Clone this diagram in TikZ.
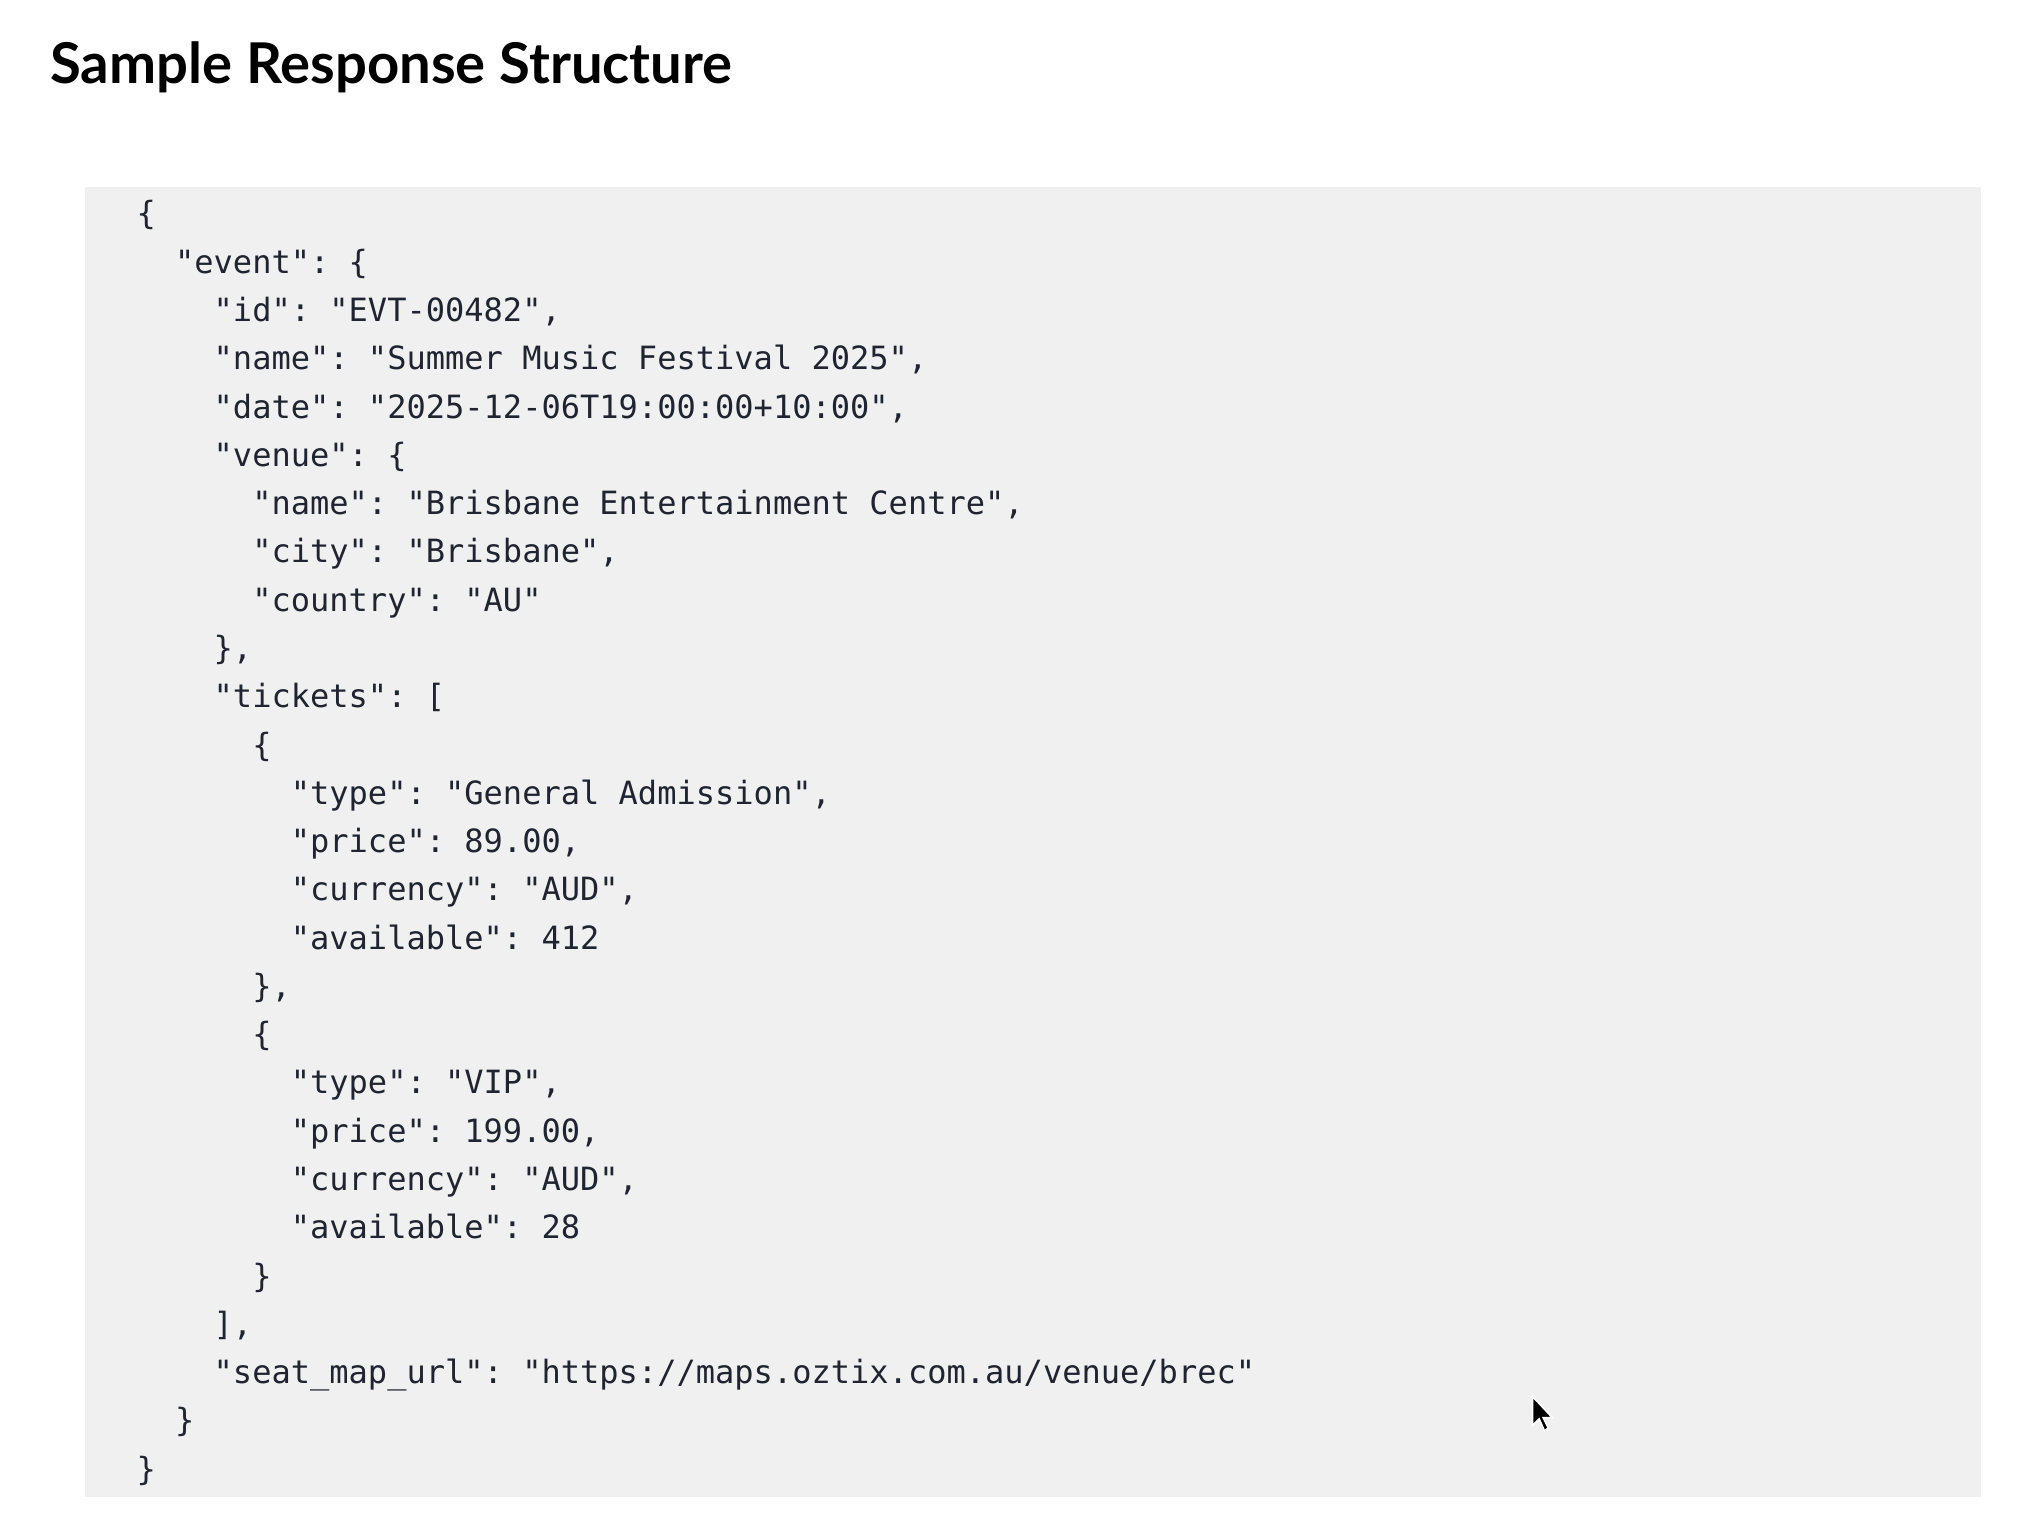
\documentclass[tikz,border=0pt]{standalone}
\usepackage{fontspec}
\setmainfont{Lato}
\setmonofont{DejaVu Sans Mono}
\usetikzlibrary{positioning}
\definecolor{codebg}{HTML}{F0F0F0}
\definecolor{codeink}{HTML}{1F2430}
\tikzset{
  code/.style={anchor=base west,inner sep=0pt,text=codeink,font=\ttfamily\fontsize{12.25}{14}\selectfont},
  heading/.style={anchor=base west,inner sep=0pt,font=\bfseries\fontsize{21.5}{26}\selectfont}
}
\begin{document}
\begin{tikzpicture}[x=0.5pt,y=-0.5pt]
  \useasboundingbox (0,0) rectangle (1560,1173);
  \fill[white] (0,0) rectangle (1560,1173);
  \node[heading] (title) at (38,64) {Sample Response Structure};
  \fill[codebg] (65,143) rectangle (1515,1145);
  % json lines: indent/text
  \foreach \n/\d/\t in {1/0/{\{},2/1/{"event": \{},3/2/{"id": "EVT-00482",},
    4/2/{"name": "Summer Music Festival 2025",},5/2/{"date": "2025-12-06T19:00:00+10:00",},
    6/2/{"venue": \{},7/3/{"name": "Brisbane Entertainment Centre",},8/3/{"city": "Brisbane",},
    9/3/{"country": "AU"},10/2/{\},},11/2/{"tickets": [},12/3/{\{},
    13/4/{"type": "General Admission",},14/4/{"price": 89.00,},15/4/{"currency": "AUD",},
    16/4/{"available": 412},17/3/{\},},18/3/{\{},19/4/{"type": "VIP",},
    20/4/{"price": 199.00,},21/4/{"currency": "AUD",},22/4/{"available": 28},
    23/3/{\}},24/2/{],},25/2/{"seat\_map\_url": "https://maps.oztix.com.au/venue/brec"},
    26/1/{\}},27/0/{\}}} {
    \node[code] (l\n) at (104+29.5*\d,172+36.92*\n-36.92) {\t};
  }
  % pointer
  \fill[black,draw=white,line width=0.6pt] (1172,1068) -- (1172,1090) -- (1177,1085) -- (1181,1094)
    -- (1184,1092) -- (1180,1084) -- (1187,1084) -- cycle;
\end{tikzpicture}
\end{document}
